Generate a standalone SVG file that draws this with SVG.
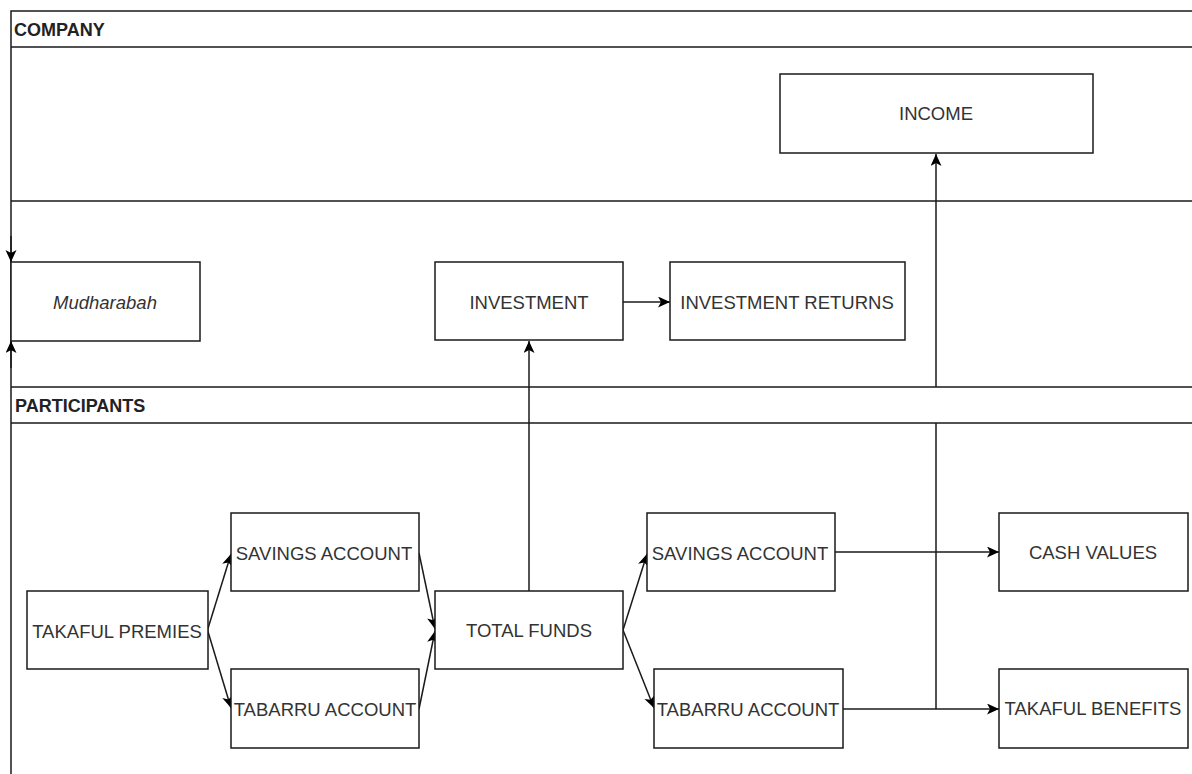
<svg xmlns="http://www.w3.org/2000/svg" width="1192" height="774" viewBox="0 0 1192 774">
<style>
.lane{fill:none;stroke:#1a1a1a;stroke-width:1.5}
.box{fill:#fff;stroke:#1a1a1a;stroke-width:1.5}
.t{font-family:"Liberation Sans",Arial,sans-serif;font-size:18.5px;fill:#333;text-anchor:middle}
.h{font-family:"Liberation Sans",Arial,sans-serif;font-size:18px;font-weight:bold;fill:#222}
.c{fill:none;stroke:#1a1a1a;stroke-width:1.5;marker-end:url(#arr)}
</style>
<defs>
<marker id="arr" markerUnits="userSpaceOnUse" markerWidth="13" markerHeight="12" refX="12" refY="5.5" orient="auto">
<path d="M0,0 L12,5.5 L0,11 L3,5.5 z" fill="#000"/>
</marker>
</defs>
<rect width="1192" height="774" fill="#fff"/>
<g id="lanes">
<path class="lane" d="M11,774 L11,11 L1192,11 M11,47 L1192,47 M11,201 L1192,201 M11,387 L1192,387 M11,423 L1192,423"/>
<text class="h" x="14" y="35.5">COMPANY</text>
<text class="h" x="15" y="411.5">PARTICIPANTS</text>
</g>
<g id="connectors">
<path class="c" d="M11,236 L11,262"/>
<path class="c" d="M11,368 L11,341"/>
<path class="c" d="M623,302 L670,302"/>
<path class="c" d="M529,591 L529,341"/>
<path class="c" d="M207.5,630 L231,554"/>
<path class="c" d="M207.5,630 L231,708"/>
<path class="c" d="M419,553 L435,629"/>
<path class="c" d="M419,709 L435,631"/>
<path class="c" d="M623,630 L647,554"/>
<path class="c" d="M623,630 L654,708"/>
<path class="c" d="M835,552 L999,552"/>
<path class="c" d="M843,709 L999,709"/>
<path class="c" d="M936,709 L936,423 M936,387 L936,154"/>
</g>
<g id="income"><rect class="box" x="780" y="74" width="313" height="79"/><text class="t" x="936" y="119.5">INCOME</text></g>
<g id="mudharabah"><rect class="box" x="11" y="262" width="189" height="79"/><text class="t" x="105" y="308.5" font-style="italic">Mudharabah</text></g>
<g id="investment"><rect class="box" x="435" y="262" width="188" height="78"/><text class="t" x="529" y="309">INVESTMENT</text></g>
<g id="investment-returns"><rect class="box" x="670" y="262" width="235" height="78"/><text class="t" x="787" y="309">INVESTMENT RETURNS</text></g>
<g id="takaful-premies"><rect class="box" x="27" y="591" width="181" height="78"/><text class="t" x="117" y="638">TAKAFUL PREMIES</text></g>
<g id="savings-1"><rect class="box" x="231" y="513" width="188" height="78"/><text class="t" x="324" y="559.5">SAVINGS ACCOUNT</text></g>
<g id="tabarru-1"><rect class="box" x="231" y="669" width="188" height="79"/><text class="t" x="325" y="716">TABARRU ACCOUNT</text></g>
<g id="total-funds"><rect class="box" x="435" y="591" width="188" height="78"/><text class="t" x="529" y="636.5">TOTAL FUNDS</text></g>
<g id="savings-2"><rect class="box" x="647" y="513" width="188" height="78"/><text class="t" x="740" y="559.5">SAVINGS ACCOUNT</text></g>
<g id="tabarru-2"><rect class="box" x="654" y="669" width="189" height="79"/><text class="t" x="748" y="716">TABARRU ACCOUNT</text></g>
<g id="cash-values"><rect class="box" x="999" y="513" width="189" height="78"/><text class="t" x="1093" y="559">CASH VALUES</text></g>
<g id="takaful-benefits"><rect class="box" x="999" y="669" width="189" height="79"/><text class="t" x="1093" y="715">TAKAFUL BENEFITS</text></g>
</svg>
